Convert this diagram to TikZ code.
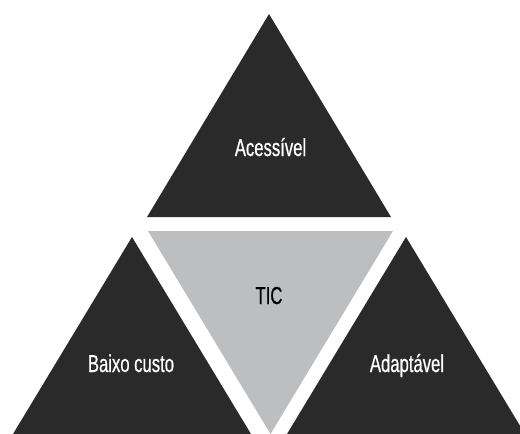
\documentclass[tikz,border=0pt]{standalone}
\usepackage{fontspec}
\setmainfont[FakeStretch=0.68,FakeBold=0.6]{Liberation Sans}
\definecolor{dark}{HTML}{2A2A2A}
\definecolor{midgray}{HTML}{BDBEC0}
\tikzset{
  tri/.style={fill=dark},
  ctri/.style={fill=midgray},
  lbl/.style={text=white, font=\fontsize{24.5}{27}\selectfont, inner sep=0pt, anchor=base},
  clbl/.style={text=black, font=\fontsize{24.5}{27}\selectfont, inner sep=0pt, anchor=base}
}
\begin{document}
\begin{tikzpicture}[x=1pt,y=-1pt]
\useasboundingbox (0,0) rectangle (520,434);
% top triangle
\coordinate (t1) at (269,14);
\coordinate (t2) at (147,217);
\coordinate (t3) at (391,217);
\fill[tri] (t1) -- (t2) -- (t3) -- cycle;
% center inverted triangle
\coordinate (c1) at (148,231);
\coordinate (c2) at (393,231);
\coordinate (c3) at (270.5,434);
\fill[ctri] (c1) -- (c2) -- (c3) -- cycle;
% bottom left
\coordinate (l1) at (132,237);
\coordinate (l2) at (13,434);
\coordinate (l3) at (251,434);
\fill[tri] (l1) -- (l2) -- (l3) -- cycle;
% bottom right
\coordinate (r1) at (406,237);
\coordinate (r2) at (287,434);
\coordinate (r3) at (525,434);
\fill[tri] (r1) -- (r2) -- (r3) -- cycle;
\node[lbl] (acc) at (270.5,156) {Acessível};
\node[clbl] (tic) at (269,304) {TIC};
\node[lbl] (baixo) at (131,372) {Baixo custo};
\node[lbl] (adapt) at (407,372) {Adaptável};
\end{tikzpicture}
\end{document}
